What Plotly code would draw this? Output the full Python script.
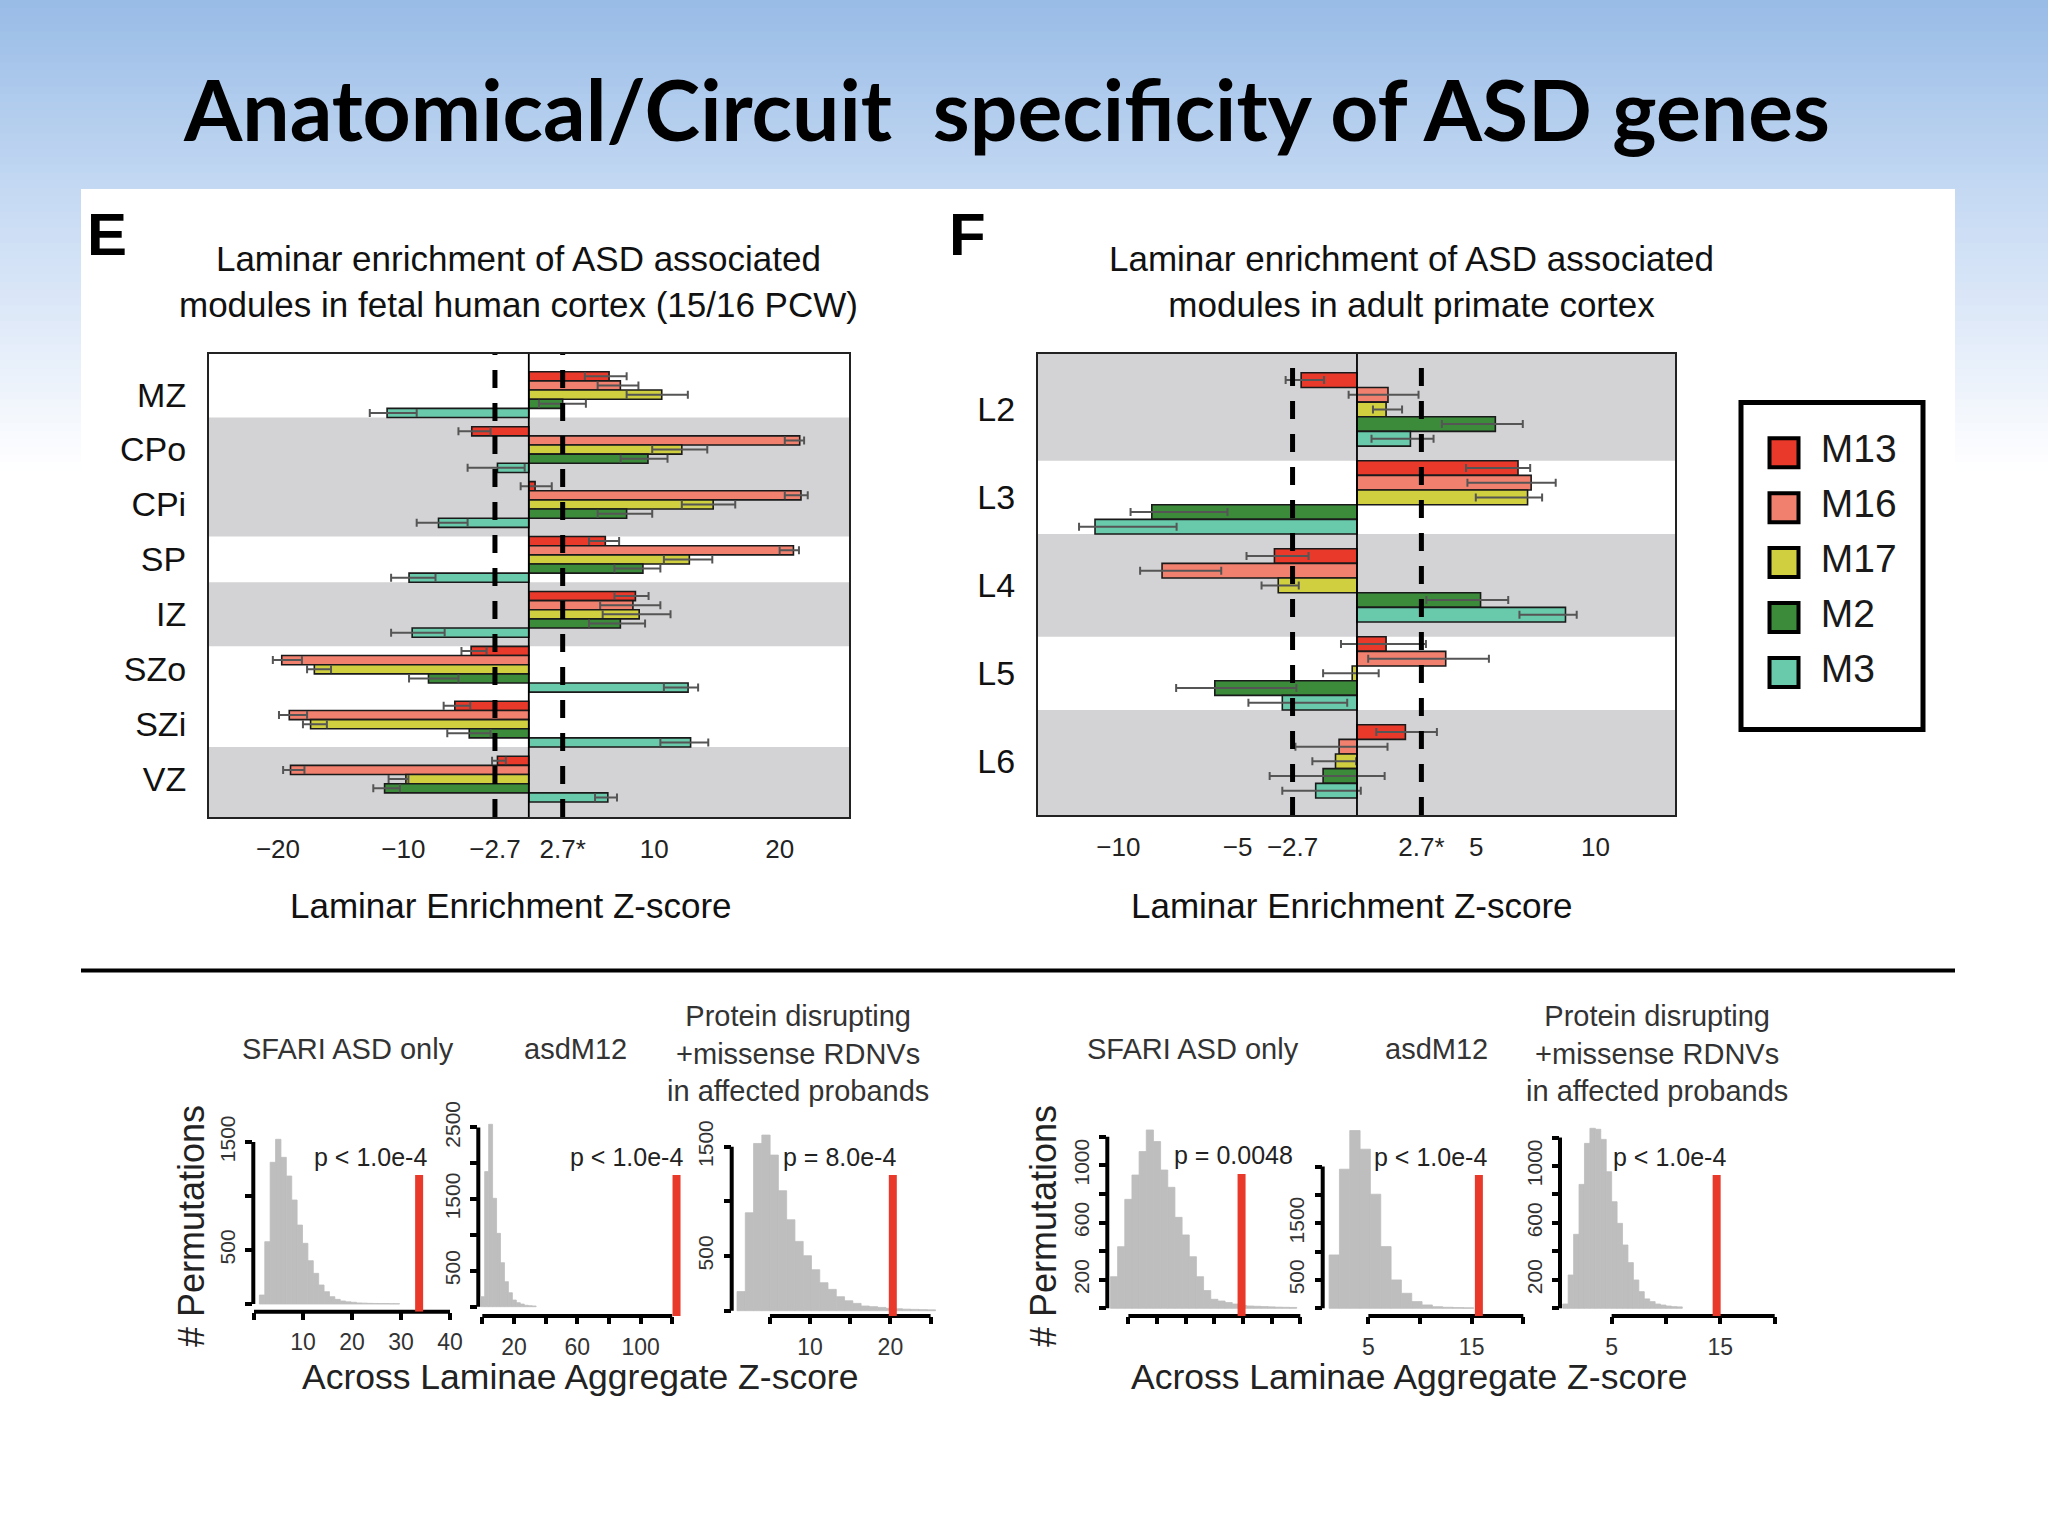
import plotly.graph_objects as go

W, H = 2048, 1536
FONT = "Liberation Sans, Arial, Helvetica, sans-serif"

# ---------------- data ----------------
series_names = ["M13", "M16", "M17", "M2", "M3"]
series_colors = ["#e8392a", "#f2806f", "#cfcf3f", "#3b8b3b", "#68c9ab"]
threshold = 2.7

# Panel E: fetal human cortex
fetal_layers = ["MZ", "CPo", "CPi", "SP", "IZ", "SZo", "SZi", "VZ"]
fetal_M13 = [6.4, -4.55, 0.5, 6.1, 8.5, -4.6, -5.9, -2.5]
fetal_M16 = [7.3, 21.6, 21.7, 21.1, 8.3, -19.7, -19.1, -19.0]
fetal_M17 = [10.6, 12.2, 14.7, 12.8, 8.8, -17.1, -17.4, -9.8]
fetal_M2 = [2.7, 9.5, 7.8, 9.1, 7.3, -8.0, -4.75, -11.5]
fetal_M3 = [-11.3, -2.5, -7.2, -9.55, -9.3, 12.7, 12.9, 6.3]
fetal_M13_lo = [4.47, -5.61, -0.65, 4.80, 6.83, -5.37, -6.79, -2.93]
fetal_M13_hi = [7.80, -3.05, 1.83, 7.20, 9.55, -3.37, -4.67, -1.83]
fetal_M16_lo = [5.49, 20.41, 20.41, 20.0, 5.69, -20.41, -19.92, -19.59]
fetal_M16_hi = [8.74, 21.95, 22.24, 21.54, 10.49, -18.09, -17.68, -17.89]
fetal_M17_lo = [7.80, 9.84, 12.20, 10.77, 5.89, -17.68, -18.01, -11.18]
fetal_M17_hi = [12.68, 14.23, 16.46, 14.63, 11.30, -15.77, -16.10, -9.60]
fetal_M2_lo = [0.81, 7.32, 5.49, 6.83, 4.80, -9.55, -6.50, -12.40]
fetal_M2_hi = [4.55, 11.06, 9.84, 10.49, 9.27, -5.61, -3.05, -10.28]
fetal_M3_lo = [-12.68, -4.88, -8.94, -10.98, -10.98, 10.77, 10.49, 5.28]
fetal_M3_hi = [-8.94, -0.33, -4.88, -7.44, -6.71, 13.50, 14.31, 7.03]
fetal_shaded = ["CPo", "CPi", "IZ", "VZ"]

# Panel F: adult primate cortex
adult_layers = ["L2", "L3", "L4", "L5", "L6"]
adult_M13 = [-2.34, 6.75, -3.46, 1.22, 2.03]
adult_M16 = [1.3, 7.3, -8.17, 3.72, -0.75]
adult_M17 = [1.22, 7.15, -3.3, -0.2, -0.9]
adult_M2 = [5.8, -8.6, 5.18, -5.96, -1.42]
adult_M3 = [2.24, -10.98, 8.74, -3.13, -1.73]
adult_M13_lo = [-2.99, 4.57, -4.63, -0.67, 0.81]
adult_M13_hi = [-1.38, 7.26, -2.03, 2.89, 3.35]
adult_M16_lo = [-0.35, 4.63, -9.09, 0.47, -2.58]
adult_M16_hi = [2.58, 8.33, -5.69, 5.53, 1.28]
adult_M17_lo = [0.67, 4.98, -4.0, -1.42, -1.87]
adult_M17_hi = [1.89, 7.76, -2.44, 0.91, -0.04]
adult_M2_lo = [3.56, -9.49, 2.91, -7.58, -3.66]
adult_M2_hi = [6.95, -5.43, 6.34, -2.54, 1.16]
adult_M3_lo = [0.61, -11.65, 6.81, -4.55, -3.13]
adult_M3_hi = [3.21, -7.56, 9.21, -0.41, 0.16]
adult_shaded = ["L2", "L4", "L6"]

fetal_ticks = [-20, -10, -2.7, 2.7, 10, 20]
fetal_ticktext = ["\u221220", "\u221210", "\u22122.7", "2.7*", "10", "20"]
adult_ticks = [-10, -5, -2.7, 2.7, 5, 10]
adult_ticktext = ["\u221210", "\u22125", "\u22122.7", "2.7*", "5", "10"]

# Permutation histograms (bin start, bin width, counts), observed value, p-values
hist_titles = ["SFARI ASD only", "asdM12", "Protein disrupting<br>+missense RDNVs<br>in affected probands",
               "SFARI ASD only", "asdM12", "Protein disrupting<br>+missense RDNVs<br>in affected probands"]
h1_start, h1_width = 1.1, 1.1
h1_counts = [83, 577, 1312, 1525, 1358, 1185, 963, 731, 562, 401, 284, 176, 114, 68, 43, 28, 20, 16,
             10, 8, 6, 5, 4, 4, 3, 3]
h2_start, h2_width = -1.0, 2.5
h2_counts = [140, 1884, 2544, 1512, 1023, 614, 349, 195, 93, 56, 37, 20, 14, 10]
h3_start, h3_width = 0.9, 1.03
h3_counts = [175, 896, 1530, 1607, 1424, 1098, 832, 634, 503, 375, 256, 195, 128, 91, 67, 43, 37, 30,
             22, 18, 14, 12, 10, 8]
h4_start, h4_width = 0.75, 0.5
h4_counts = [221, 431, 762, 932, 1096, 1247, 1166, 967, 846, 636, 513, 361, 221, 124, 63, 51, 40, 30,
             20, 16, 14, 12, 10, 8, 7, 6]
h5_start, h5_width = 1.2, 1.0
h5_counts = [941, 2453, 3135, 2806, 2012, 1088, 500, 265, 118, 59, 29, 18, 12, 8]
h6_start, h6_width = 0.5, 0.5
h6_counts = [30, 234, 520, 871, 1159, 1265, 1258, 1187, 960, 749, 597, 445, 321, 199, 117, 66, 47, 30,
             23, 16, 12, 10]
observed_z = [33.7, 122.7, 20.3, 9.9, 15.7, 14.66]
observed_height = [1194, 1837, 1241, 939, 2353, 937]
p_labels = ["p < 1.0e-4", "p < 1.0e-4", "p = 8.0e-4", "p = 0.0048", "p < 1.0e-4", "p < 1.0e-4"]

h_xticks = [[0, 10, 20, 30, 40], [0, 20, 40, 60, 80, 100, 120], [5, 10, 15, 20, 25],
            [2, 4, 6, 8, 10, 12, 14], [5, 10, 15, 20], [5, 10, 15, 20]]
h_xticktext = [["", "10", "20", "30", "40"], ["", "20", "", "60", "", "100", ""], ["", "10", "", "20", ""],
               ["", "", "", "", "", "", ""], ["5", "", "15", ""], ["5", "", "15", ""]]
h_yticks = [[0, 500, 1000, 1500], [0, 500, 1000, 1500, 2000, 2500], [0, 500, 1000, 1500],
            [0, 200, 400, 600, 800, 1000, 1200], [0, 500, 1000, 1500, 2000, 2500],
            [0, 200, 400, 600, 800, 1000, 1200]]
h_yticktext = [["", "500", "", "1500"], ["", "500", "", "1500", "", "2500"], ["", "500", "", "1500"],
               ["", "200", "", "600", "", "1000", ""], ["", "500", "", "1500", "", ""],
               ["", "200", "", "600", "", "1000", ""]]

# ---------------- layout helpers ----------------
def fx(x):
    return x / W


def fy(y):
    return 1 - y / H


fig = go.Figure()
shapes = []
annotations = []

# background gradient + white panel
stops = [(0, (152, 187, 230)), (190, (196, 217, 243)), (330, (225, 235, 249)), (470, (255, 255, 255))]


def grad(y):
    for (a, ca), (b, cb) in zip(stops[:-1], stops[1:]):
        if a <= y <= b:
            t = (y - a) / (b - a)
            return "rgb(%d,%d,%d)" % tuple(round(ca[i] + t * (cb[i] - ca[i])) for i in range(3))
    return "rgb(255,255,255)"


nstrip = 60
for i in range(nstrip):
    y0 = 470 * i / nstrip
    y1 = 470 * (i + 1) / nstrip + 1
    shapes.append(dict(type="rect", xref="paper", yref="paper", x0=0, x1=1, y0=fy(y1), y1=fy(y0),
                       fillcolor=grad((y0 + y1) / 2), line=dict(width=0), layer="below"))
shapes.append(dict(type="rect", xref="paper", yref="paper", x0=fx(81), x1=fx(1955), y0=0, y1=fy(189),
                   fillcolor="white", line=dict(width=0), layer="below"))
shapes.append(dict(type="line", xref="paper", yref="paper", x0=fx(81), x1=fx(1955), y0=fy(970.5), y1=fy(970.5),
                   line=dict(color="black", width=4), layer="above"))

# ---------------- panels E and F ----------------
GAP = 1 / 6
panels = [
    dict(xa="x", ya="y", cats=fetal_layers, shaded=fetal_shaded,
         vals=[fetal_M13, fetal_M16, fetal_M17, fetal_M2, fetal_M3],
         los=[fetal_M13_lo, fetal_M16_lo, fetal_M17_lo, fetal_M2_lo, fetal_M3_lo],
         his=[fetal_M13_hi, fetal_M16_hi, fetal_M17_hi, fetal_M2_hi, fetal_M3_hi],
         ticks=fetal_ticks, ticktext=fetal_ticktext,
         box=(209, 849, 354, 817), xrange=[-25.5, 25.53], yrange=[7.69, -0.74]),
    dict(xa="x2", ya="y2", cats=adult_layers, shaded=adult_shaded,
         vals=[adult_M13, adult_M16, adult_M17, adult_M2, adult_M3],
         los=[adult_M13_lo, adult_M16_lo, adult_M17_lo, adult_M2_lo, adult_M3_lo],
         his=[adult_M13_hi, adult_M16_hi, adult_M17_hi, adult_M2_hi, adult_M3_hi],
         ticks=adult_ticks, ticktext=adult_ticktext,
         box=(1038, 1675, 354, 815), xrange=[-13.37, 13.33], yrange=[4.61, -0.63]),
]

layout_axes = {}
for p in panels:
    for k, name in enumerate(series_names):
        v, lo, hi = p["vals"][k], p["los"][k], p["his"][k]
        fig.add_trace(go.Bar(
            y=p["cats"], x=v, orientation="h", name=name, showlegend=False,
            marker=dict(color=series_colors[k], line=dict(color="#1a1a1a", width=1.6)),
            error_x=dict(type="data", symmetric=False,
                         array=[max(h - a, 0) for a, h in zip(v, hi)],
                         arrayminus=[max(a - l, 0) for a, l in zip(v, lo)],
                         color="#555555", thickness=2, width=4),
            xaxis=p["xa"], yaxis=p["ya"]))
    ncat = len(p["cats"])
    for c in p["shaded"]:
        i = p["cats"].index(c)
        y0 = p["yrange"][1] if i == 0 else i - 0.5 - GAP / 2
        y1 = p["yrange"][0] if i == ncat - 1 else i + 0.5 + GAP / 2
        shapes.append(dict(type="rect", xref=p["xa"] + " domain", yref=p["ya"], x0=0, x1=1, y0=y0, y1=y1,
                           fillcolor="#d3d3d5", line=dict(width=0), layer="below"))
    shapes.append(dict(type="line", xref=p["xa"], yref=p["ya"] + " domain", x0=0, x1=0, y0=0, y1=1,
                       line=dict(color="black", width=1.8), layer="above"))
    for t in (-threshold, threshold):
        shapes.append(dict(type="line", xref=p["xa"], yref=p["ya"] + " domain", x0=t, x1=t, y0=0, y1=1,
                           line=dict(color="black", width=5, dash="18px,15px"), layer="above"))
    l, r, t_, b = p["box"]
    xkey = "xaxis" + p["xa"][1:]
    ykey = "yaxis" + p["ya"][1:]
    layout_axes[xkey] = dict(domain=[fx(l), fx(r)], range=p["xrange"], anchor=p["ya"],
                             showgrid=False, zeroline=False, showline=True, mirror=True,
                             linecolor="#222", linewidth=2, ticks="",
                             tickvals=p["ticks"], ticktext=p["ticktext"], ticklabelstandoff=8,
                             tickfont=dict(family=FONT, size=26, color="#222"))
    layout_axes[ykey] = dict(domain=[fy(b), fy(t_)], type="category", range=p["yrange"], anchor=p["xa"],
                             showgrid=False, zeroline=False, showline=True, mirror=True,
                             linecolor="#222", linewidth=2, ticks="", ticklabelstandoff=14,
                             tickfont=dict(family=FONT, size=34, color="#111"))

# ---------------- histograms ----------------
hist_start = [h1_start, h2_start, h3_start, h4_start, h5_start, h6_start]
hist_width = [h1_width, h2_width, h3_width, h4_width, h5_width, h6_width]
hist_counts = [h1_counts, h2_counts, h3_counts, h4_counts, h5_counts, h6_counts]
# geometry: y-axis line x px, x=0 px, px per unit, right px, x-axis line y px, y=0 px, px per count, top px
hist_geom = [
    (253.3, 254.0, 4.9, 470, 1311.7, 1304.0, 0.108, 1100),
    (478.3, 482.3, 1.583, 700, 1316.0, 1306.7, 0.0717, 1100),
    (731.7, 729.8, 8.03, 950, 1316.0, 1310.7, 0.1093, 1100),
    (1107.3, 1099.7, 14.33, 1318, 1316.0, 1308.3, 0.143, 1100),
    (1322.7, 1316.7, 10.33, 1540, 1316.0, 1308.3, 0.0567, 1100),
    (1560.0, 1557.3, 10.87, 1790, 1316.0, 1308.3, 0.1423, 1100),
]
p_pos = [(23.8, 1364), (91.4, 2093), (13.6, 1408), (9.37, 1072), (11.0, 2676), (10.3, 1066)]

for j in range(6):
    n = j + 3
    xa, ya = "x%d" % n, "y%d" % n
    yl_x, x0p, xppu, rp, xl_y, y0p, yppc, tp = hist_geom[j]
    xr = [(yl_x - x0p) / xppu, (rp - x0p) / xppu]
    yr = [-(xl_y - y0p) / yppc, (y0p - tp) / yppc]
    st, wd, cnt = hist_start[j], hist_width[j], hist_counts[j]
    fig.add_trace(go.Bar(x=[st + wd * (i + 0.5) for i in range(len(cnt))], y=cnt, width=wd,
                         marker=dict(color="#bebebe", line=dict(width=0.8, color="#bebebe")),
                         showlegend=False, xaxis=xa, yaxis=ya))
    fig.add_trace(go.Scatter(x=[observed_z[j], observed_z[j]], y=[yr[0], observed_height[j]], mode="lines",
                             line=dict(color="#e8392a", width=8), showlegend=False, xaxis=xa, yaxis=ya))
    layout_axes["xaxis%d" % n] = dict(domain=[fx(yl_x), fx(rp)], range=xr, anchor=ya, showgrid=False,
                                      zeroline=False, showline=False, ticks="outside", ticklen=7,
                                      tickwidth=3.5, tickcolor="black", tickvals=h_xticks[j],
                                      ticktext=h_xticktext[j], ticklabelstandoff=3,
                                      tickfont=dict(family=FONT, size=23, color="#333"))
    layout_axes["yaxis%d" % n] = dict(domain=[fy(xl_y), fy(tp)], range=yr, anchor=xa, showgrid=False,
                                      zeroline=False, showline=False, ticks="outside", ticklen=7,
                                      tickwidth=3.5, tickcolor="black", tickvals=h_yticks[j],
                                      ticktext=h_yticktext[j], tickangle=-90, ticklabelstandoff=2,
                                      tickfont=dict(family=FONT, size=21, color="#333"))
    shapes.append(dict(type="line", xref=xa, yref=ya + " domain", x0=h_xticks[j][0], x1=h_xticks[j][-1],
                       y0=0, y1=0, line=dict(color="black", width=4), layer="below"))
    shapes.append(dict(type="line", xref=xa + " domain", yref=ya, x0=0, x1=0, y0=h_yticks[j][0],
                       y1=h_yticks[j][-1], line=dict(color="black", width=4), layer="below"))
    annotations.append(dict(xref=xa, yref=ya, x=p_pos[j][0], y=p_pos[j][1], text=p_labels[j],
                            showarrow=False, font=dict(family=FONT, size=25, color="#222")))

# ---------------- legend ----------------
fig.add_trace(go.Scatter(x=[0.242] * len(series_names), y=list(range(len(series_names))), mode="markers",
                         marker=dict(symbol="square", size=29, color=series_colors,
                                     line=dict(color="black", width=4)),
                         showlegend=False, xaxis="x9", yaxis="y9", cliponaxis=False))
fig.add_trace(go.Scatter(x=[0.44] * len(series_names), y=list(range(len(series_names))), mode="text",
                         text=series_names, textposition="middle right",
                         textfont=dict(family=FONT, size=39, color="#1a1a1a"),
                         showlegend=False, xaxis="x9", yaxis="y9", cliponaxis=False))
layout_axes["xaxis9"] = dict(domain=[fx(1739), fx(1925)], range=[0, 1], anchor="y9", visible=False)
layout_axes["yaxis9"] = dict(domain=[fy(731.7), fy(400.7)], range=[5.08, -0.947], anchor="x9", visible=False)
shapes.append(dict(type="rect", xref="paper", yref="paper", x0=fx(1741), x1=fx(1923), y0=fy(729.5),
                   y1=fy(402.5), line=dict(color="black", width=5), fillcolor="rgba(0,0,0,0)", layer="above"))

# ---------------- text ----------------
def ann(x, y, text, size, color="#111", family=FONT, angle=0, xanchor="center"):
    annotations.append(dict(xref="paper", yref="paper", x=fx(x), y=fy(y), text=text, showarrow=False,
                            xanchor=xanchor, yanchor="middle", textangle=angle,
                            font=dict(family=family, size=size, color=color)))


ann(1006, 109, "<b>Anatomical/Circuit \u00a0specificity of ASD genes</b>", 84, "black", "Lato, Open Sans, sans-serif")
ann(107, 235, "<b>E</b>", 60, "black")
ann(967, 235, "<b>F</b>", 60, "black")
ann(518, 281, "Laminar enrichment of ASD associated<br>modules in fetal human cortex (15/16 PCW)", 35)
ann(1411, 281, "Laminar enrichment of ASD associated<br>modules in adult primate cortex", 35)
ann(511, 905, "Laminar Enrichment Z-score", 35)
ann(1352, 905, "Laminar Enrichment Z-score", 35)

header_x = [348, 575, 798, 1193, 1436, 1657]
for j in range(6):
    nlines = hist_titles[j].count("<br>") + 1
    ann(header_x[j], 1049 if nlines == 1 else 1053, hist_titles[j], 29, "#333")
ann(191, 1226, "# Permutations", 36, "#222", angle=-90)
ann(1043, 1226, "# Permutations", 36, "#222", angle=-90)
ann(580, 1377, "Across Laminae Aggregate Z-score", 35.5, "#222")
ann(1409, 1377, "Across Laminae Aggregate Z-score", 35.5, "#222")

fig.update_layout(width=W, height=H, margin=dict(l=0, r=0, t=0, b=0), paper_bgcolor="white",
                  plot_bgcolor="rgba(0,0,0,0)", barmode="group", bargap=GAP, bargroupgap=0,
                  showlegend=False, shapes=shapes, annotations=annotations, **layout_axes)

fig.write_html("out.html", include_plotlyjs=True, full_html=True,
               config={"displayModeBar": False},
               post_script="document.body.style.margin='0';document.body.style.overflow='hidden';")
